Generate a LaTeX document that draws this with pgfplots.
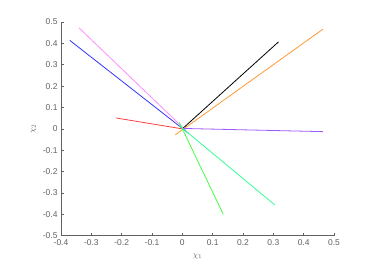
\documentclass[border=0pt]{standalone}
\usepackage{pgfplots}
\pgfplotsset{compat=1.18}
\usepackage{fontspec}
\setmainfont{Liberation Sans}
\definecolor{axgray}{rgb}{0.38,0.38,0.38}
\definecolor{cblue}{rgb}{0.2,0.2,1}
\definecolor{cpink}{rgb}{1,0.55,1}
\definecolor{cred}{rgb}{1,0.25,0.25}
\definecolor{corange}{rgb}{1,0.6,0.2}
\definecolor{cpurple}{rgb}{0.62,0.35,1}
\definecolor{cgreen}{rgb}{0.25,1,0.25}
\definecolor{cspring}{rgb}{0.2,1,0.6}
\begin{document}
\begin{tikzpicture}
\path[use as bounding box] (0,0) rectangle (388bp,264bp);
\begin{axis}[
  at={(61bp,28.3bp)}, anchor=south west,
  scale only axis, width=273bp, height=213.7bp,
  xmin=-0.4, xmax=0.5, ymin=-0.5, ymax=0.5,
  axis x line*=bottom, axis y line*=left,
  axis line style={axgray, line width=0.5bp, -},
  xtick={-0.4,-0.3,...,0.5}, ytick={-0.5,-0.4,...,0.5},
  tick style={axgray, line width=0.5bp},
  tick align=inside, major tick length=3bp,
  ticklabel style={font=\fontsize{8.5}{9}\selectfont, text=axgray},
  /pgf/number format/assume math mode=true,
  /pgf/number format/fixed,
  xlabel={$\chi_1$}, ylabel={$\chi_2$},
  label style={font=\fontsize{8.5}{9}\selectfont, text=axgray},
  xlabel style={yshift=-2bp},
  ylabel style={yshift=0bp},
  clip=false,
]
\addplot[cred, line width=0.8bp] coordinates {(-0.219,0.051) (0.0,0.0)};
\addplot[cpink, line width=0.8bp] coordinates {(-0.341,0.473) (0.01,-0.005)};
\addplot[cblue, line width=0.8bp] coordinates {(-0.371,0.414) (0.02,-0.02)};
\addplot[black, line width=0.8bp] coordinates {(0.0,0.0) (0.317,0.407)};
\addplot[corange, line width=0.8bp] coordinates {(-0.023,-0.028) (0.463,0.466)};
\addplot[cpurple, line width=0.8bp] coordinates {(0.0,0.002) (0.463,-0.013)};
\addplot[cgreen, line width=0.8bp] coordinates {(-0.01,0.03) (0.135,-0.40)};
\addplot[cspring, line width=0.8bp] coordinates {(-0.01,0.015) (0.305,-0.356)};
\end{axis}
\end{tikzpicture}
\end{document}
